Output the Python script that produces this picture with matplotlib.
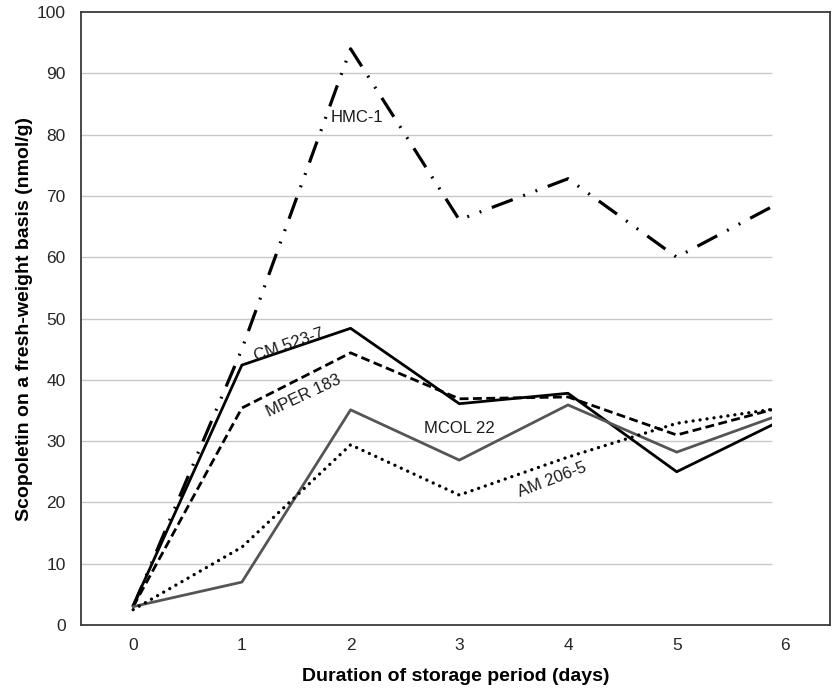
import numpy as np
import matplotlib
matplotlib.use('Agg')
import matplotlib.pyplot as plt
from matplotlib.patches import Rectangle

plt.rcParams['font.family'] = ['Liberation Sans', 'DejaVu Sans']

# storage days
days = [0, 1, 2, 3, 4, 5, 6]

# scopoletin, nmol/g fresh weight
hmc_1 = [3.0, 45.0, 94.0, 66.1, 72.8, 60.0, 69.4]
cm_523_7 = [3.2, 42.4, 48.4, 36.1, 37.8, 25.0, 33.7]
mper_183 = [3.0, 35.4, 44.4, 36.9, 37.2, 31.0, 35.7]
mcol_22 = [3.0, 7.0, 35.1, 26.9, 35.9, 28.2, 34.6]
am_206_5 = [2.5, 12.7, 29.4, 21.2, 27.4, 32.9, 35.5]

yticks = [0, 10, 20, 30, 40, 50, 60, 70, 80, 90, 100]
xlabel = 'Duration of storage period (days)'
ylabel = 'Scopoletin on a fresh-weight basis (nmol/g)'

fig = plt.figure(figsize=(8.35, 6.9), dpi=100)
ax = fig.add_axes([0.097, 0.0942, 0.897, 0.8884])

x_lo, x_hi, x_clip = -0.48, 6.41, 5.88
ax.set_xlim(x_lo, x_hi)
ax.set_ylim(0, 100)

# gridlines stop short of the right frame, as in the original
ax.hlines(yticks[1:-1], x_lo, x_clip, color='#c8c8c8', lw=1.0, zorder=1)

clip = Rectangle((x_lo, 0), x_clip - x_lo, 100, transform=ax.transData)

lines = []
lines += ax.plot(days, hmc_1, color='black', lw=2.3,
                 dashes=(7, 3.5, 0.6, 3.5, 0.6, 3.5), zorder=3)
lines += ax.plot(days, cm_523_7, color='black', lw=2.0, zorder=3)
lines += ax.plot(days, mper_183, color='black', lw=2.0,
                 dashes=(3.2, 1.6), zorder=3)
lines += ax.plot(days, mcol_22, color='#555555', lw=2.0, zorder=3)
lines += ax.plot(days, am_206_5, color='black', lw=2.4,
                 dashes=(0.01, 2.1), dash_capstyle='round', zorder=3)
for ln in lines:
    ln.set_clip_path(clip)

# series labels
lab = dict(fontsize=12, color='#1a1a1a', ha='center', va='center', zorder=4)
ax.text(2.06, 82.8, 'HMC-1', **lab)
ax.text(1.43, 45.7, 'CM 523-7', rotation=19, **lab)
ax.text(1.57, 37.4, 'MPER 183', rotation=25, **lab)
ax.text(3.0, 32.1, 'MCOL 22', **lab)
ax.text(3.85, 23.7, 'AM 206-5', rotation=21, **lab)

ax.set_xticks(days)
ax.set_yticks(yticks)
ax.tick_params(length=0, labelsize=12.5, labelcolor='#262626')
ax.tick_params(axis='y', pad=11)
ax.tick_params(axis='x', pad=9)

for side in ['left', 'bottom', 'top', 'right']:
    ax.spines[side].set_color('#3a3a3a')
    ax.spines[side].set_linewidth(1.3)

ax.set_xlabel(xlabel, fontsize=14, fontweight='bold', labelpad=11)
ax.set_ylabel(ylabel, fontsize=14, fontweight='bold', labelpad=3)

plt.savefig('out.png', dpi=100)
